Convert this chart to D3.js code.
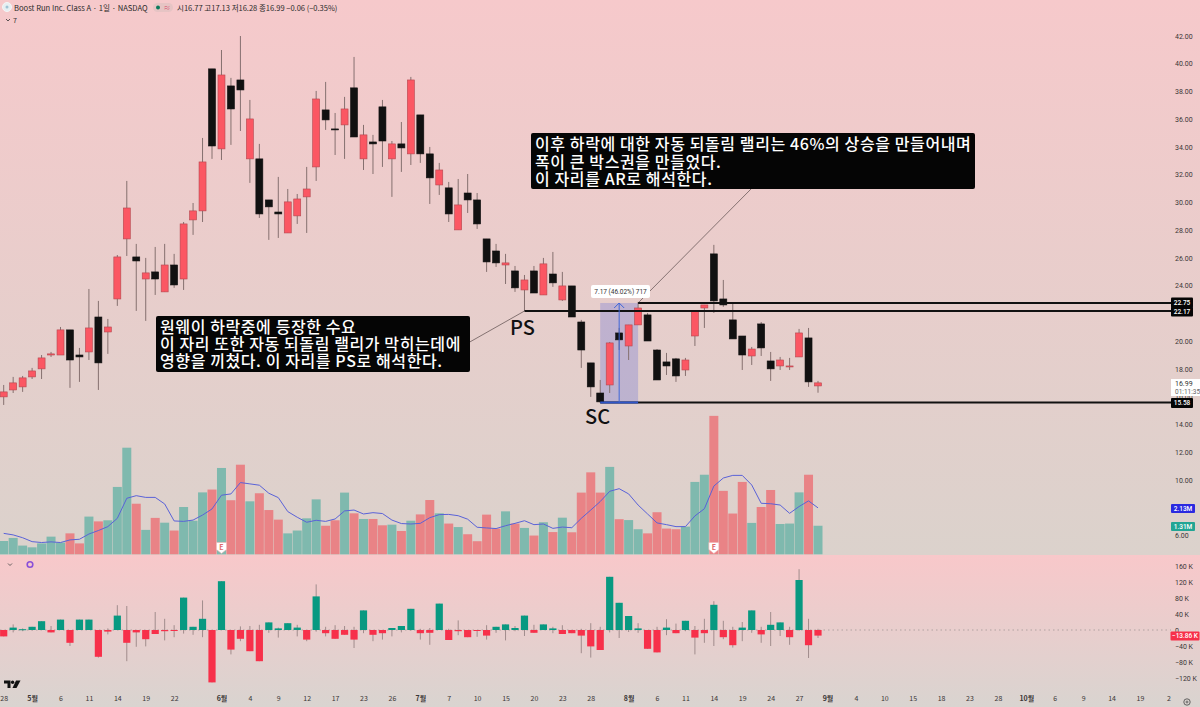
<!DOCTYPE html>
<html>
<head>
<meta charset="utf-8">
<script src="https://cdn.jsdelivr.net/npm/d3@7"></script>
<style>
  html, body { margin: 0; padding: 0; background: #e6d0ce; }
  svg { display: block; font-family: "Noto Sans CJK KR", "Noto Sans", sans-serif; }
</style>
</head>
<body>
<svg id="chart" width="1200" height="707"></svg>
<script>
// price candles
const opens = [15.98,16.48,16.70,17.42,18.00,19.00,19.00,20.81,19.00,19.22,21.74,20.66,23.04,27.37,26.07,24.48,24.99,23.55,25.49,24.48,28.74,29.39,39.63,33.86,38.40,38.83,33.14,33.14,30.18,29.31,27.80,29.03,30.40,32.56,36.67,35.30,35.59,38.26,33.14,34.36,36.89,33.14,34.22,33.50,36.31,33.50,31.26,31.05,28.02,30.68,30.18,27.37,26.50,25.49,25.06,23.69,25.06,23.33,24.84,22.97,23.98,21.38,18.43,16.26,16.84,20.59,19.65,21.17,21.89,19.36,18.50,18.72,17.92,20.37,22.39,26.29,23.04,21.53,20.37,18.93,21.24,18.57,18.21,18.14,18.86,20.23,16.77];
const highs = [16.84,17.42,17.49,18.07,19.00,19.22,21.02,20.81,19.51,23.76,22.90,21.60,26.21,31.55,27.01,26.00,26.79,27.01,26.29,28.59,29.96,34.65,39.63,40.99,38.98,42.00,37.39,34.22,30.18,31.84,30.97,30.61,32.56,38.04,38.69,36.45,37.61,40.49,35.59,34.87,37.39,34.43,35.80,39.05,36.31,34.00,32.85,31.48,31.69,32.05,30.68,27.37,27.01,26.29,25.42,24.77,25.42,26.00,26.43,24.99,23.98,21.53,18.43,17.20,19.94,20.95,21.17,22.83,22.03,19.43,19.15,18.79,18.79,22.18,22.61,26.94,24.41,22.68,20.37,19.58,21.38,19.22,18.86,18.79,20.88,20.95,17.13];
const lows = [15.40,16.26,16.34,17.27,17.27,18.86,19.00,16.63,17.06,18.64,16.48,19.08,22.54,26.14,22.18,21.46,23.33,23.55,23.84,23.69,27.66,28.59,33.14,33.06,34.15,35.15,31.41,28.88,27.30,27.44,27.80,28.45,27.80,31.55,35.23,33.42,33.14,34.72,32.34,32.05,32.56,30.40,32.20,32.70,32.85,29.89,30.54,28.59,28.02,29.24,28.09,24.99,25.35,24.12,23.55,22.18,23.47,23.33,23.91,22.90,21.74,18.07,15.98,15.54,16.26,19.36,18.64,21.17,20.01,17.20,17.56,17.06,17.49,19.65,20.95,22.03,22.47,20.16,17.92,18.28,18.93,17.13,17.92,17.92,18.86,16.70,16.28];
const closes = [16.34,16.99,17.35,17.85,18.79,19.08,20.81,18.64,18.86,20.95,18.43,21.02,26.07,29.60,25.78,24.92,24.48,25.49,24.05,28.45,29.39,32.92,34.07,39.19,36.74,38.11,36.02,29.17,29.68,29.17,30.04,30.25,30.97,37.46,35.95,35.23,36.74,34.72,34.87,34.22,34.43,34.22,33.93,38.83,33.50,31.77,32.34,29.17,29.82,30.18,28.45,25.71,25.64,25.64,23.84,24.41,23.47,25.57,24.20,23.98,21.74,19.36,16.70,15.62,19.87,20.09,21.17,22.39,20.01,17.20,18.21,17.49,18.64,22.18,22.61,22.90,22.61,20.16,19.00,19.43,19.51,18.00,18.64,18.21,20.59,17.06,16.99];

// volume in millions and its moving average
const volumes = [0.61,0.75,0.40,0.32,0.50,0.81,0.54,0.96,0.50,1.73,1.51,1.56,3.09,4.89,2.32,1.12,1.67,1.45,1.09,2.17,1.54,2.84,2.97,3.96,2.48,4.11,2.43,2.80,2.03,1.59,0.96,1.09,1.65,2.52,1.31,1.56,2.83,1.88,1.62,1.62,1.33,1.36,1.07,1.54,1.83,2.49,1.88,1.41,1.25,0.92,0.60,1.82,1.18,1.97,1.41,1.21,0.86,1.47,1.02,1.68,1.01,2.83,3.76,2.83,4.01,1.61,1.57,1.15,0.96,1.93,1.18,1.15,1.27,3.32,3.65,6.35,2.91,1.87,3.32,1.44,2.17,2.95,1.39,1.41,2.84,3.65,1.31];
const volumeMA = [0.96,0.89,0.76,0.58,0.54,0.57,0.54,0.66,0.69,0.93,1.09,1.27,1.65,2.57,2.69,2.61,2.61,2.31,1.53,1.51,1.57,1.80,2.08,2.71,2.77,3.29,3.23,3.17,2.80,2.60,1.96,1.70,1.47,1.56,1.51,1.62,1.99,2.03,1.85,1.91,1.87,1.57,1.41,1.39,1.42,1.68,1.82,1.83,1.77,1.61,1.24,1.21,1.18,1.31,1.42,1.54,1.36,1.39,1.19,1.25,1.22,1.65,2.03,2.42,2.89,3.01,2.77,2.26,1.85,1.44,1.36,1.27,1.27,1.76,2.09,3.13,3.50,3.62,3.62,3.18,2.34,2.32,2.26,1.88,2.19,2.45,2.13];

// lower pane, in thousands: each candle opens at zero
const oscClose = [-16,6,2,8,22,-6,26,-32,26,26,-67,-4,36,-32,-6,-23,-10,-3,-2,81,8,28,-131,122,-49,-22,-53,-78,19,4,17,6,-24,84,-8,-22,-12,-24,49,-12,-8,5,10,53,-8,-7,66,-25,-3,-18,-1,-14,8,14,5,36,-7,14,4,-10,-8,-14,-41,-50,133,68,35,4,-47,-56,6,-8,23,-19,-8,63,-18,-38,6,49,-11,13,19,-18,125,-38,-14];
const oscHigh = [0,14,4,8,22,10,26,0,26,26,0,4,62,60,0,0,45,28,12,81,8,74,0,122,0,9,10,13,19,6,17,13,0,114,8,12,10,8,49,0,0,5,10,53,3,5,66,3,24,0,0,12,8,14,10,36,13,14,8,12,0,3,17,8,133,68,35,17,0,8,27,16,23,10,28,72,23,8,20,49,8,45,19,8,152,28,3];
const oscLow = [-16,-6,-3,-1,0,-6,0,-40,0,0,-69,-11,0,-78,-42,-41,-10,-26,-18,-9,-12,-18,-131,0,-61,-28,-53,-78,-7,-19,0,-16,-28,-4,-16,-22,-12,-45,-8,-28,-24,-16,-6,-2,-24,-37,0,-25,-13,-18,-17,-24,-7,-26,-3,-15,-7,0,-8,-10,-8,-58,-69,-50,-6,-20,-5,-7,-47,-56,-13,-8,-3,-61,-32,-40,-23,-44,-28,-7,-32,-40,-15,-37,-2,-70,-20];

// axis labels
const priceTicks = [42,40,38,36,34,32,30,28,26,24,20,18,16,14,12,10,6];
const oscTicks = [160,120,80,40,0,-40,-80,-120];
const dateTickIdx = [0,3,6,9,12,15,18,23,26,29,32,35,38,41,44,47,50,53,56,59,62,66,69,72,75,78,81,84,87,90,93,96,99,102,105,108,111,114,117,120,123];
const dateTickLabels = ["28","5월","6","11","14","19","22","6월","4","9","12","17","23","26","7월","7","10","15","20","23","28","8월","6","11","14","19","24","27","9월","4","10","15","18","23","28","10월","6","9","14","19","2"];
const earningsIdx = [23, 75];

// levels and callouts
const levelPrices = [22.75, 22.17, 15.58];
const levelStarts = [67, 55, 63];
const calloutPS = ["원웨이 하락중에 등장한 수요", "이 자리 또한 자동 되돌림 랠리가 막히는데에", "영향을 끼쳤다. 이 자리를 PS로 해석한다."];
const calloutAR = ["이후 하락에 대한 자동 되돌림 랠리는 46%의 상승을 만들어내며", "폭이 큰 박스권을 만들었다.", "이 자리를 AR로 해석한다."];

const width = 1200, height = 707;
const paneSplit = 555;
const svg = d3.select("#chart");

const x = d3.scaleLinear().domain([0, 86]).range([3.7, 818]);
const y = d3.scaleLinear().domain([42, 6]).range([36, 535.3]);
const vy = d3.scaleLinear().domain([0, 1]).range([554.3, 532.5]);
const oy = d3.scaleLinear().domain([160, -120]).range([566, 678]);
const idx = d3.range(opens.length);

const colors = {
  wick: "#85706f", upBody: "#fb5763", upEdge: "#b5474f", downBody: "#111111",
  volUp: "#7fb9ae", volDown: "#e98386", ma: "#5a62d8",
  oscUp: "#089981", oscDown: "#f7304a", text: "#3a3636"
};

// backgrounds
const defs = svg.append("defs");
[["bgMain", "#f6c9cb", "#dbd2cc"], ["bgOsc", "#f8c8ca", "#d9d4d0"]].forEach(([id, a, b]) => {
  const g = defs.append("linearGradient").attr("id", id).attr("x1", 0).attr("x2", 0).attr("y1", 0).attr("y2", 1);
  g.append("stop").attr("offset", 0).attr("stop-color", a);
  g.append("stop").attr("offset", 1).attr("stop-color", b);
});
svg.append("rect").attr("width", width).attr("height", paneSplit).attr("fill", "url(#bgMain)");
svg.append("rect").attr("y", paneSplit).attr("width", width).attr("height", height - paneSplit).attr("fill", "url(#bgOsc)");

// volume
svg.append("g").selectAll("rect").data(idx).join("rect")
  .attr("x", i => x(i) - 4.5).attr("width", 9)
  .attr("y", i => vy(volumes[i])).attr("height", i => vy(0) - vy(volumes[i]))
  .attr("fill", i => closes[i] >= opens[i] ? colors.volUp : colors.volDown);

svg.append("path").datum(idx)
  .attr("d", d3.line().x(i => x(i)).y(i => vy(volumeMA[i])))
  .attr("fill", "none").attr("stroke", colors.ma).attr("stroke-width", 1);

// earnings badges
const badges = svg.append("g").selectAll("g").data(earningsIdx).join("g")
  .attr("transform", i => `translate(${x(i)},547.5)`);
badges.append("path").attr("d", "M-5,-5H5V2L0,6L-5,2Z").attr("fill", "#fff").attr("stroke", "#f0b0b0").attr("stroke-width", 0.6);
badges.append("text").attr("text-anchor", "middle").attr("y", 2.5).attr("font-size", 7).attr("font-weight", 700)
  .attr("fill", "#e0686c").text("E");

// measure box behind the candles
const boxL = x(63), boxR = x(67);
svg.append("rect").attr("x", boxL).attr("y", y(22.75)).attr("width", boxR - boxL).attr("height", y(15.58) - y(22.75))
  .attr("fill", "#4a5ad8").attr("opacity", 0.25);

// connector lines
svg.append("line").attr("x1", 468).attr("y1", 343).attr("x2", x(55)).attr("y2", y(22.17))
  .attr("stroke", "#6b5b5b").attr("stroke-width", 0.8);
svg.append("line").attr("x1", 752).attr("y1", 188).attr("x2", x(67)).attr("y2", y(22.75))
  .attr("stroke", "#6b5b5b").attr("stroke-width", 0.8);

// candles
const candle = svg.append("g").selectAll("g").data(idx).join("g");
candle.append("line")
  .attr("x1", i => x(i)).attr("x2", i => x(i))
  .attr("y1", i => y(highs[i])).attr("y2", i => y(lows[i]))
  .attr("stroke", colors.wick).attr("stroke-width", 1);
candle.append("rect")
  .attr("x", i => x(i) - 3.5).attr("width", 7)
  .attr("y", i => y(Math.max(opens[i], closes[i])))
  .attr("height", i => Math.max(1, Math.abs(y(opens[i]) - y(closes[i]))))
  .attr("fill", i => closes[i] >= opens[i] ? colors.upBody : colors.downBody)
  .attr("stroke", i => closes[i] >= opens[i] ? colors.upEdge : colors.downBody)
  .attr("stroke-width", 0.6);

// horizontal levels
svg.append("g").selectAll("line").data(levelPrices).join("line")
  .attr("x1", (d, i) => x(levelStarts[i])).attr("x2", 1171)
  .attr("y1", d => y(d)).attr("y2", d => y(d))
  .attr("stroke", "#111").attr("stroke-width", 2);

// measure arrow and label
const boxMid = (boxL + boxR) / 2;
svg.append("line").attr("x1", boxL).attr("x2", boxR).attr("y1", y(15.58)).attr("y2", y(15.58))
  .attr("stroke", "#2f55c8").attr("stroke-width", 2);
svg.append("line").attr("x1", boxMid).attr("x2", boxMid).attr("y1", y(15.58)).attr("y2", y(22.75))
  .attr("stroke", "#3f66d8").attr("stroke-width", 1);
svg.append("path").attr("d", `M${boxMid - 5},${y(22.75) + 5}L${boxMid},${y(22.75)}L${boxMid + 5},${y(22.75) + 5}`)
  .attr("fill", "none").attr("stroke", "#3f66d8").attr("stroke-width", 1);
svg.append("rect").attr("x", 591).attr("y", 285).attr("width", 59).attr("height", 13).attr("rx", 2).attr("fill", "#fff");
svg.append("text").attr("x", 620.5).attr("y", 294).attr("text-anchor", "middle").attr("font-size", 6.5)
  .attr("font-family", "Roboto").attr("fill", "#333").text("7.17 (46.02%) 717");

// callout boxes
function callout(lines, bx, by, bw, bh, lineStep) {
  svg.append("rect").attr("x", bx).attr("y", by).attr("width", bw).attr("height", bh).attr("rx", 2).attr("fill", "#050505");
  svg.append("g").selectAll("text").data(lines).join("text")
    .attr("x", bx + 4).attr("y", (d, i) => by + 17 + i * lineStep)
    .attr("font-size", 16).attr("letter-spacing", 0.6).attr("font-weight", 500).attr("fill", "#fff").text(d => d);
}
callout(calloutPS, 156, 316, 314, 56, 17);
callout(calloutAR, 531, 133, 444, 56, 17.5);

svg.append("text").attr("x", 510).attr("y", 335).attr("font-size", 20).attr("font-weight", 500).attr("fill", "#111").text("PS");
svg.append("text").attr("x", 585).attr("y", 424).attr("font-size", 20).attr("font-weight", 500).attr("fill", "#111").text("SC");

// lower pane
svg.append("line").attr("x1", 0).attr("x2", 1171).attr("y1", oy(0)).attr("y2", oy(0))
  .attr("stroke", "#9a8f8f").attr("stroke-width", 0.7).attr("stroke-dasharray", "1.5 3");
const osc = svg.append("g").selectAll("g").data(idx).join("g");
osc.append("line")
  .attr("x1", i => x(i)).attr("x2", i => x(i))
  .attr("y1", i => oy(oscHigh[i])).attr("y2", i => oy(oscLow[i]))
  .attr("stroke", "#a08c8c").attr("stroke-width", 1);
osc.append("rect")
  .attr("x", i => x(i) - 3.6).attr("width", 7.2)
  .attr("y", i => oy(Math.max(0, oscClose[i])))
  .attr("height", i => Math.max(1, Math.abs(oy(oscClose[i]) - oy(0))))
  .attr("fill", i => oscClose[i] >= 0 ? colors.oscUp : colors.oscDown);

// axes
function styleAxis(g, size) {
  g.select(".domain").remove();
  g.selectAll(".tick line").remove();
  g.selectAll(".tick text").attr("font-size", size).attr("font-family", "Roboto").attr("fill", colors.text);
}
svg.append("g").attr("transform", "translate(1175,0)")
  .call(d3.axisRight(y).tickValues(priceTicks).tickFormat(d3.format(".2f")).tickSize(0).tickPadding(0))
  .call(styleAxis, 7);
svg.append("g").attr("transform", "translate(1175,0)")
  .call(d3.axisRight(oy).tickValues(oscTicks).tickFormat(d => d === 0 ? "0" : (d < 0 ? "−" + (-d) : d) + " K").tickSize(0).tickPadding(0))
  .call(styleAxis, 7);
const dateAxis = d3.axisBottom(x).tickValues(dateTickIdx).tickFormat((d, i) => dateTickLabels[i]).tickSize(0).tickPadding(0);
svg.append("g").attr("transform", "translate(0,696)").call(dateAxis).call(styleAxis, 7)
  .selectAll(".tick text").attr("font-weight", (d, i) => dateTickLabels[i].endsWith("월") ? 700 : 400)
  .attr("font-family", "'Noto Sans CJK KR'");

// right hand tags
function tag(tx, ty, tw, th, fill, label, color) {
  svg.append("rect").attr("x", tx).attr("y", ty).attr("width", tw).attr("height", th).attr("rx", 1).attr("fill", fill);
  svg.append("text").attr("x", tx + tw / 2).attr("y", ty + th / 2 + 2.3).attr("text-anchor", "middle").attr("font-size", 6.5)
    .attr("font-family", "Roboto").attr("font-weight", 500).attr("fill", color).text(label);
}
svg.append("rect").attr("x", 1171).attr("y", 379).attr("width", 29).attr("height", 17).attr("fill", "#fff");
svg.append("text").attr("x", 1175).attr("y", 385.5).attr("font-size", 7).attr("font-family", "Roboto").attr("fill", "#333").text(closes[86].toFixed(2));
svg.append("text").attr("x", 1175).attr("y", 393.5).attr("font-size", 6.5).attr("font-family", "Roboto").attr("fill", "#666").text("01:11:35");
tag(1171, y(22.75) - 5.5, 22, 10, "#050505", levelPrices[0].toFixed(2), "#fff");
tag(1171, y(22.17) - 4.5, 22, 10, "#050505", levelPrices[1].toFixed(2), "#fff");
tag(1171, y(15.58) - 4.5, 22, 10, "#050505", levelPrices[2].toFixed(2), "#fff");
tag(1171, 504, 24, 9, "#2a2ae0", volumeMA[86].toFixed(2) + "M", "#fff");
tag(1171, 522, 24, 9, "#22a594", volumes[86].toFixed(2) + "M", "#fff");
tag(1170.5, 631.5, 29, 9, "#f7304a", "−13.86 K", "#fff");

// header
svg.append("circle").attr("cx", 7).attr("cy", 7).attr("r", 4.5).attr("fill", "#e6eff2").attr("stroke", "#f5f5f5");
svg.append("circle").attr("cx", 7).attr("cy", 7).attr("r", 1.5).attr("fill", "#9fc3d4");
svg.append("text").attr("x", 14).attr("y", 11).attr("font-size", 7.6).attr("fill", "#2a2a2a").text("Boost Run Inc. Class A · 1일 · NASDAQ");
svg.append("rect").attr("x", 153).attr("y", 3).attr("width", 20).attr("height", 9).attr("rx", 4.5).attr("fill", "#e6c4c4");
svg.append("circle").attr("cx", 158).attr("cy", 7.5).attr("r", 2).attr("fill", "#0b7a5c");
svg.append("text").attr("x", 167).attr("y", 10).attr("text-anchor", "middle").attr("font-size", 7).attr("fill", "#d9486a").text("≈");
svg.append("text").attr("x", 177).attr("y", 10.5).attr("font-size", 7.5).attr("fill", "#2a2a2a")
  .text(`시${opens[86]} 고${highs[86]} 저${lows[86]} 종${closes[86]} −0.06 (−0.35%)`);
svg.append("path").attr("d", "M6,19L8,21L10,19").attr("fill", "none").attr("stroke", "#333").attr("stroke-width", 0.8);
svg.append("text").attr("x", 13).attr("y", 23).attr("font-size", 7).attr("fill", "#333").text("7");

// lower pane icons
svg.append("path").attr("d", "M8,563.5L10,565.5L12,563.5").attr("fill", "none").attr("stroke", "#444").attr("stroke-width", 0.8);
svg.append("circle").attr("cx", 30).attr("cy", 564.5).attr("r", 2.8).attr("fill", "none").attr("stroke", "#8a4fd8").attr("stroke-width", 1.6);

// logo
const logo = svg.append("g").attr("fill", "#111");
logo.append("path").attr("d", "M4,680.5H10.5V688H7.5V683.5H4Z");
logo.append("circle").attr("cx", 12.6).attr("cy", 682.3).attr("r", 1.7);
logo.append("path").attr("d", "M16,680.5H20.5L16.5,688H12.5Z");

// settings gear
svg.append("circle").attr("cx", 1187).attr("cy", 702).attr("r", 3.2).attr("fill", "none").attr("stroke", "#444").attr("stroke-width", 0.8);
svg.append("circle").attr("cx", 1187).attr("cy", 702).attr("r", 1).attr("fill", "none").attr("stroke", "#444").attr("stroke-width", 0.7);
</script>
</body>
</html>
